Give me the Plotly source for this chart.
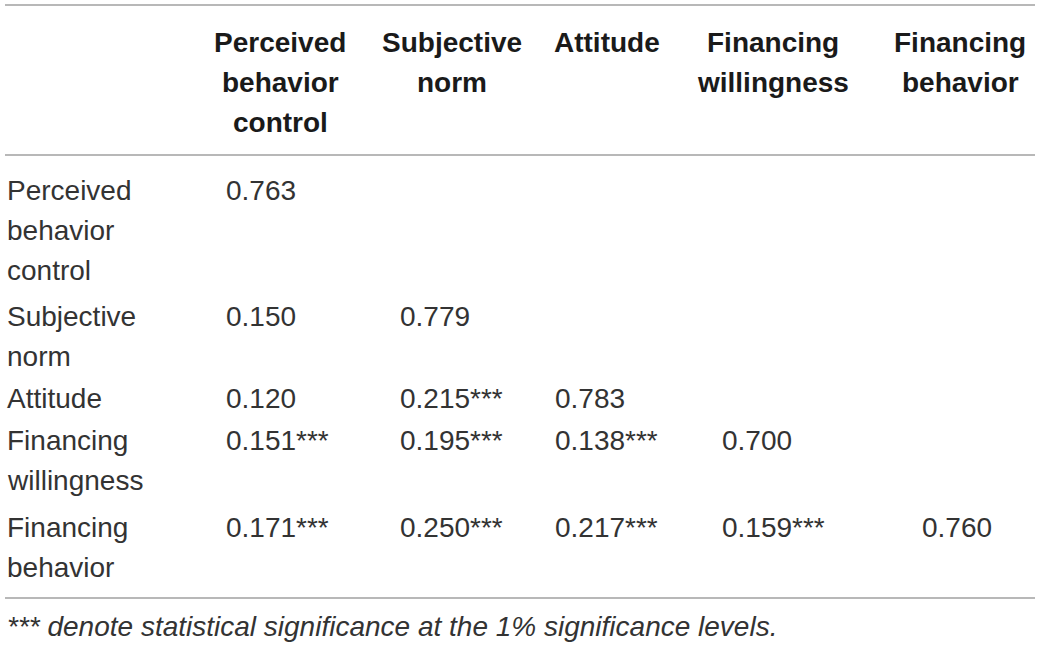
import plotly.graph_objects as go

# table content
row_labels = ["Perceived<br>behavior<br>control", "Subjective<br>norm", "Attitude",
              "Financing<br>willingness", "Financing<br>behavior"]
col_labels = ["Perceived<br>behavior<br>control", "Subjective<br>norm", "Attitude",
              "Financing<br>willingness", "Financing<br>behavior"]
values = [
    [0.763],
    [0.150, 0.779],
    [0.120, 0.215, 0.783],
    [0.151, 0.195, 0.138, 0.700],
    [0.171, 0.250, 0.217, 0.159, 0.760],
]
signif = [
    [0],
    [0, 0],
    [0, 1, 0],
    [1, 1, 1, 0],
    [1, 1, 1, 1, 0],
]
footnote = "*** denote statistical significance at the 1% significance levels."

# layout (pixel positions on a 1040x647 canvas)
W, H = 1040, 647
FONT = "Liberation Sans, Arial, Helvetica, sans-serif"
FS = 28
LINE_H = 40
head_x = [280, 452, 607, 773, 960]
head_y0 = 42
val_x = [224, 398, 553, 720, 920]
row_y = [190, 316, 398, 440, 527]
label_x = 5
rules = [5, 155, 598]

fig = go.Figure()
fig.add_trace(go.Scatter(x=[0, W], y=[0, H], mode="markers",
                         marker=dict(opacity=0), hoverinfo="skip", showlegend=False))

ann = []
for j, lab in enumerate(col_labels):
    for k, line in enumerate(lab.split("<br>")):
        ann.append(dict(x=head_x[j], y=head_y0 + k * LINE_H, text="<b>%s</b>" % line,
                        xanchor="center", yanchor="middle", showarrow=False,
                        font=dict(family=FONT, size=FS, color="#1a1a1a")))

for i, lab in enumerate(row_labels):
    for k, line in enumerate(lab.split("<br>")):
        ann.append(dict(x=label_x, y=row_y[i] + k * LINE_H, text=line,
                        xanchor="left", yanchor="middle", showarrow=False,
                        font=dict(family=FONT, size=FS, color="#333333")))
    for j, v in enumerate(values[i]):
        txt = "%.3f" % v
        if signif[i][j]:
            txt += "***"
        ann.append(dict(x=val_x[j], y=row_y[i], text=txt,
                        xanchor="left", yanchor="middle", showarrow=False,
                        font=dict(family=FONT, size=FS, color="#333333")))

ann.append(dict(x=label_x, y=626, text="<i>%s</i>" % footnote,
                xanchor="left", yanchor="middle", showarrow=False,
                font=dict(family=FONT, size=28, color="#333333")))

shapes = [dict(type="line", x0=5, x1=1035, y0=r, y1=r,
               line=dict(color="#a0a0a0", width=1.5)) for r in rules]

fig.update_layout(
    width=W, height=H,
    margin=dict(l=0, r=0, t=0, b=0),
    paper_bgcolor="white", plot_bgcolor="white",
    xaxis=dict(range=[0, W], visible=False, fixedrange=True),
    yaxis=dict(range=[H, 0], visible=False, fixedrange=True),
    annotations=ann, shapes=shapes,
)

fig.write_html("out.html", config={"displayModeBar": False},
               post_script="document.body.style.margin='0';")
